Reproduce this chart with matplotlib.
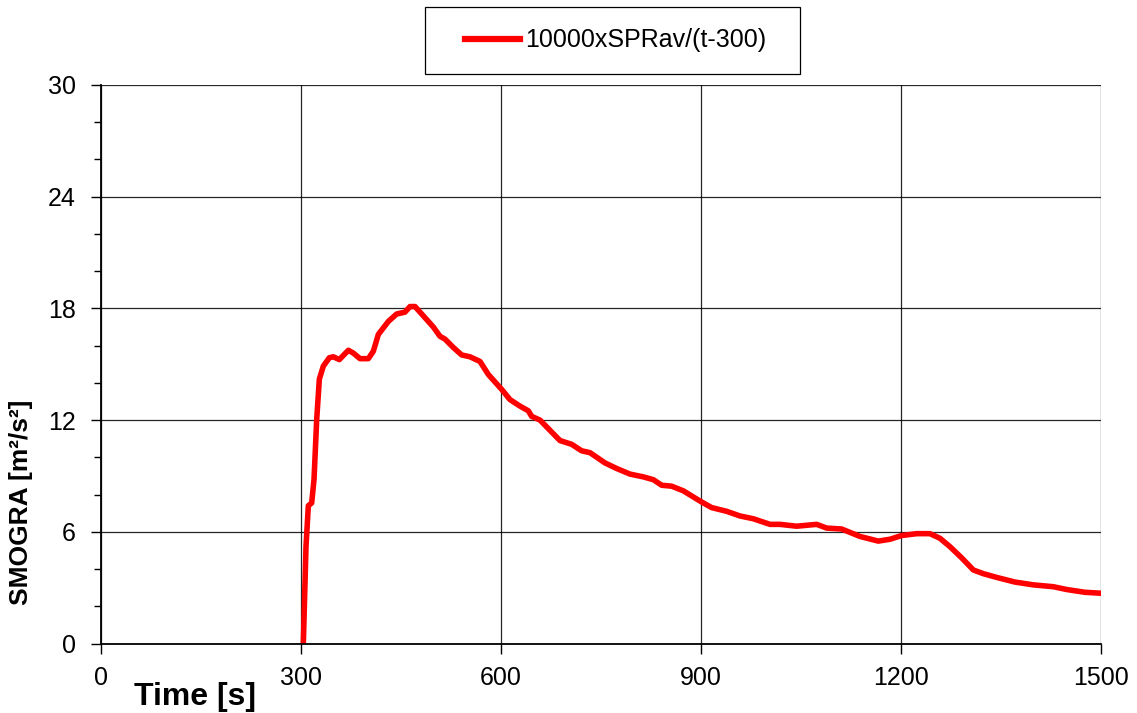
import numpy as np
import matplotlib.pyplot as plt
from matplotlib.ticker import MultipleLocator
from matplotlib.patches import Rectangle

plt.rcParams['font.family'] = ['Liberation Sans', 'DejaVu Sans']

# Zeit [s] und SMOGRA-Werte
time_s = [303.5, 307.5, 311, 316, 319.5, 323.5, 327.5, 333.5, 342.5, 348.5,
          357.5, 371, 378.5, 388.5, 401, 408.5, 416, 431, 443.5, 456,
          463.5, 471, 483.5, 498.5, 508.5, 516, 528.5, 541, 553.5, 568.5,
          581, 601, 613.5, 628.5, 641, 646, 658.5, 673.5, 688.5, 706,
          721, 733.5, 756, 773.5, 793.5, 813.5, 828.5, 841, 856, 873.5,
          901, 916, 938.5, 958.5, 978.5, 1003.5, 1018.5, 1043.5, 1073.5, 1088.5,
          1111, 1138.5, 1166, 1183.5, 1201, 1223.5, 1243.5, 1258.5, 1273.5, 1291,
          1308.5, 1323.5, 1343.5, 1371, 1398.5, 1428.5, 1448.5, 1476, 1500]
smogra = [0.0, 5.2, 7.4, 7.55, 8.8, 12.0, 14.2, 14.9, 15.35, 15.4,
          15.25, 15.75, 15.6, 15.3, 15.3, 15.7, 16.6, 17.3, 17.7, 17.8,
          18.1, 18.1, 17.6, 17.0, 16.5, 16.35, 15.9, 15.5, 15.4, 15.15,
          14.45, 13.65, 13.1, 12.75, 12.5, 12.2, 12.0, 11.45, 10.9, 10.7,
          10.35, 10.25, 9.7, 9.4, 9.1, 8.95, 8.8, 8.5, 8.45, 8.2,
          7.6, 7.3, 7.1, 6.85, 6.7, 6.4, 6.4, 6.3, 6.4, 6.2,
          6.15, 5.75, 5.5, 5.6, 5.8, 5.9, 5.9, 5.65, 5.2, 4.6,
          3.95, 3.75, 3.55, 3.3, 3.15, 3.05, 2.9, 2.75, 2.7]

fig = plt.figure(figsize=(11.37, 7.13), dpi=100)
ax = fig.add_axes([101 / 1137, 1 - 643.5 / 713, 1000 / 1137, 558.5 / 713])

line, = ax.plot(time_s, smogra, color='#ff0000', linewidth=4,
                solid_joinstyle='round', label='10000xSPRav/(t-300)')

ax.set_xlim(0, 1500)
ax.set_ylim(0, 30)
ax.set_xticks(np.arange(0, 1501, 300))
ax.set_yticks(np.arange(0, 31, 6))
ax.yaxis.set_minor_locator(MultipleLocator(2))
ax.grid(True, which='major', color='black', linewidth=0.9, alpha=0.85)
ax.set_axisbelow(True)

for side in ['top', 'right']:
    ax.spines[side].set_visible(False)
ax.spines['left'].set_linewidth(1.3)
ax.spines['bottom'].set_linewidth(1.3)

ax.tick_params(axis='y', which='major', direction='out', length=7,
               width=1, labelsize=18, pad=11)
ax.tick_params(axis='x', which='major', direction='out', length=7,
               width=1, labelsize=18, pad=9)
ax.tick_params(axis='y', which='minor', direction='out', length=5, width=1)

ax.set_ylabel('SMOGRA [m²/s²]', fontsize=19, fontweight='bold')
ax.yaxis.set_label_coords(-68 / 1000, (643.5 - 502) / 558.5)
ax.set_xlabel('Time [s]', fontsize=23, fontweight='bold')
ax.xaxis.set_label_coords(94 / 1000, -38 / 558.5)

# Legende ohne eigenen Rahmen, Rahmen separat gezeichnet
leg = fig.legend(handles=[line], loc='center', bbox_to_anchor=(616 / 1137, 1 - 40.5 / 713),
                 fontsize=18, frameon=False, handlelength=2.2, handletextpad=0.2,
                 borderpad=0, borderaxespad=0)
leg.get_lines()[0].set_linewidth(4.5)
fig.patches.append(Rectangle((425 / 1137, 1 - 74 / 713), 375 / 1137, 67 / 713,
                             transform=fig.transFigure, fill=False,
                             edgecolor='black', linewidth=0.9))

fig.savefig('out.png', dpi=100)
